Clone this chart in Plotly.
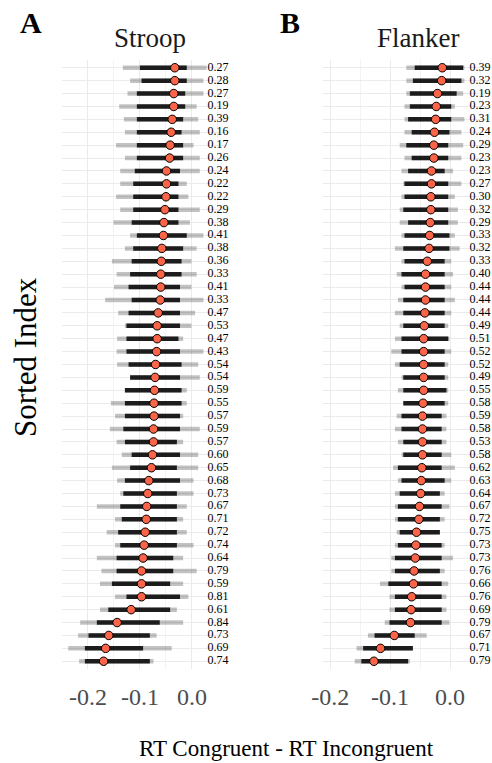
import plotly.graph_objects as go

# Sorted participant index (1 = top row)
rows = list(range(1, 48))

# ---------------- Stroop ----------------
stroop_mean = [-0.033, -0.033, -0.035, -0.035, -0.038, -0.040, -0.042, -0.043, -0.049, -0.049,
               -0.050, -0.052, -0.054, -0.055, -0.058, -0.059, -0.060, -0.060, -0.061, -0.065,
               -0.067, -0.067, -0.068, -0.070, -0.071, -0.072, -0.073, -0.073, -0.074, -0.074,
               -0.076, -0.078, -0.083, -0.085, -0.087, -0.088, -0.090, -0.092, -0.094, -0.097,
               -0.097, -0.097, -0.117, -0.144, -0.160, -0.166, -0.170]
# dense part of the sample cloud
stroop_core_lo = [-0.100, -0.097, -0.106, -0.106, -0.106, -0.106, -0.106, -0.106, -0.110, -0.113,
                  -0.113, -0.113, -0.116, -0.106, -0.113, -0.116, -0.119, -0.122, -0.116, -0.122,
                  -0.126, -0.126, -0.126, -0.122, -0.119, -0.129, -0.129, -0.129, -0.132, -0.129,
                  -0.116, -0.119, -0.129, -0.132, -0.138, -0.135, -0.142, -0.138, -0.145, -0.145,
                  -0.154, -0.126, -0.161, -0.183, -0.199, -0.206, -0.206]
stroop_core_hi = [-0.010, -0.010, -0.013, -0.013, -0.017, -0.020, -0.017, -0.017, -0.023, -0.026,
                  -0.026, -0.026, -0.026, -0.010, -0.017, -0.020, -0.020, -0.023, -0.023, -0.023,
                  -0.023, -0.026, -0.023, -0.020, -0.023, -0.020, -0.020, -0.023, -0.023, -0.029,
                  -0.023, -0.029, -0.023, -0.029, -0.029, -0.029, -0.029, -0.029, -0.036, -0.036,
                  -0.042, -0.023, -0.042, -0.062, -0.081, -0.094, -0.081]
# full extent of the sample cloud
stroop_tail_lo = [-0.133, -0.119, -0.124, -0.140, -0.131, -0.129, -0.146, -0.129, -0.138, -0.138,
                  -0.146, -0.138, -0.151, -0.119, -0.129, -0.154, -0.145, -0.150, -0.167, -0.142,
                  -0.129, -0.144, -0.145, -0.144, -0.119, -0.129, -0.156, -0.148, -0.158, -0.145,
                  -0.135, -0.154, -0.144, -0.138, -0.183, -0.148, -0.164, -0.148, -0.183, -0.174,
                  -0.177, -0.148, -0.177, -0.215, -0.219, -0.238, -0.217]
stroop_tail_hi = [0.028, 0.022, 0.022, 0.009, 0.012, 0.015, 0.003, 0.015, 0.015, -0.010,
                  -0.007, 0.015, -0.004, 0.022, 0.009, -0.001, 0.009, -0.001, 0.022, 0.006,
                  -0.001, -0.017, 0.022, 0.012, 0.015, -0.010, -0.010, -0.017, 0.015, -0.017,
                  0.012, 0.012, 0.003, 0.003, -0.010, -0.017, -0.010, 0.003, -0.017, 0.009,
                  -0.017, -0.007, -0.029, -0.017, -0.068, -0.039, -0.074]
stroop_labels = [0.27, 0.28, 0.27, 0.19, 0.39, 0.16, 0.17, 0.26, 0.24, 0.22,
                 0.22, 0.29, 0.38, 0.41, 0.38, 0.36, 0.33, 0.41, 0.33, 0.47,
                 0.53, 0.47, 0.43, 0.54, 0.54, 0.59, 0.55, 0.57, 0.59, 0.57,
                 0.60, 0.65, 0.68, 0.73, 0.67, 0.71, 0.72, 0.74, 0.64, 0.79,
                 0.59, 0.81, 0.61, 0.84, 0.73, 0.69, 0.74]

# ---------------- Flanker ----------------
flanker_mean = [-0.013, -0.014, -0.021, -0.023, -0.024, -0.026, -0.027, -0.027, -0.031, -0.031,
                -0.032, -0.032, -0.033, -0.034, -0.035, -0.038, -0.041, -0.041, -0.041, -0.042,
                -0.043, -0.044, -0.044, -0.044, -0.044, -0.044, -0.045, -0.046, -0.046, -0.046,
                -0.046, -0.047, -0.048, -0.049, -0.051, -0.052, -0.056, -0.057, -0.058, -0.060,
                -0.061, -0.064, -0.065, -0.066, -0.093, -0.116, -0.127]
flanker_core_lo = [-0.059, -0.062, -0.067, -0.067, -0.070, -0.064, -0.073, -0.064, -0.070, -0.076,
                   -0.076, -0.078, -0.070, -0.076, -0.078, -0.076, -0.081, -0.076, -0.078, -0.078,
                   -0.078, -0.081, -0.081, -0.084, -0.078, -0.078, -0.078, -0.081, -0.081, -0.078,
                   -0.078, -0.087, -0.081, -0.084, -0.087, -0.087, -0.084, -0.087, -0.092, -0.092,
                   -0.103, -0.092, -0.092, -0.101, -0.126, -0.145, -0.148]
flanker_core_hi = [0.022, 0.019, 0.011, 0.002, 0.002, -0.001, -0.003, -0.003, -0.009, -0.003,
                   -0.003, -0.003, -0.003, -0.001, -0.001, -0.009, -0.009, -0.009, -0.009, -0.009,
                   -0.009, -0.003, -0.009, -0.009, -0.009, -0.006, -0.009, -0.014, -0.014, -0.014,
                   -0.014, -0.014, -0.009, -0.017, -0.014, -0.017, -0.017, -0.014, -0.014, -0.017,
                   -0.014, -0.014, -0.014, -0.014, -0.059, -0.062, -0.070]
flanker_tail_lo = [-0.073, -0.073, -0.073, -0.076, -0.076, -0.076, -0.084, -0.076, -0.081, -0.078,
                   -0.081, -0.084, -0.084, -0.081, -0.092, -0.081, -0.089, -0.081, -0.087, -0.092,
                   -0.084, -0.092, -0.098, -0.092, -0.081, -0.087, -0.078, -0.089, -0.092, -0.087,
                   -0.081, -0.095, -0.087, -0.092, -0.092, -0.092, -0.089, -0.092, -0.098, -0.098,
                   -0.117, -0.101, -0.101, -0.109, -0.137, -0.156, -0.159]
flanker_tail_hi = [0.024, 0.024, 0.022, 0.008, 0.024, 0.019, 0.022, 0.019, 0.005, 0.019,
                   0.008, 0.013, 0.013, 0.008, 0.016, 0.002, 0.005, 0.002, 0.008, 0.002,
                   -0.003, -0.001, 0.002, -0.003, -0.003, -0.003, -0.003, -0.006, -0.006, -0.006,
                   0.002, 0.008, 0.002, -0.009, -0.001, -0.009, -0.017, -0.009, 0.005, -0.009,
                   -0.003, -0.006, -0.006, -0.001, -0.039, -0.062, -0.067]
flanker_labels = [0.39, 0.32, 0.19, 0.23, 0.31, 0.24, 0.29, 0.23, 0.23, 0.27,
                  0.30, 0.32, 0.29, 0.33, 0.32, 0.33, 0.40, 0.44, 0.44, 0.44,
                  0.49, 0.51, 0.52, 0.52, 0.49, 0.55, 0.58, 0.59, 0.58, 0.53,
                  0.58, 0.62, 0.63, 0.64, 0.67, 0.72, 0.75, 0.73, 0.73, 0.76,
                  0.66, 0.76, 0.69, 0.79, 0.67, 0.71, 0.79]

tick_vals = [-0.2, -0.1, 0.0]
tick_text = ["-0.2", "-0.1", "0.0"]
minor_vals = [-0.25, -0.15, -0.05, 0.05]
label_x = 0.05

FONT = "Liberation Serif"
W, H = 492, 763


def segments(lo, hi, ys):
    xs, yy = [], []
    for a, b, r in zip(lo, hi, ys):
        xs += [a, b, None]
        yy += [r, r, None]
    return xs, yy


fig = go.Figure()

panels = [
    ("x", "y", stroop_mean, stroop_core_lo, stroop_core_hi, stroop_tail_lo, stroop_tail_hi, stroop_labels),
    ("x2", "y2", flanker_mean, flanker_core_lo, flanker_core_hi, flanker_tail_lo, flanker_tail_hi, flanker_labels),
]

for xa, ya, mean, clo, chi, tlo, thi, labs in panels:
    tx, ty = segments(tlo, thi, rows)
    fig.add_trace(go.Scatter(x=tx, y=ty, mode="lines", xaxis=xa, yaxis=ya,
                             line=dict(color="rgba(0,0,0,0.24)", width=4.5),
                             hoverinfo="skip", showlegend=False))
    cx, cy = segments(clo, chi, rows)
    fig.add_trace(go.Scatter(x=cx, y=cy, mode="lines", xaxis=xa, yaxis=ya,
                             line=dict(color="rgba(0,0,0,0.85)", width=4.5),
                             hoverinfo="skip", showlegend=False))
    fig.add_trace(go.Scatter(x=mean, y=rows, mode="markers", xaxis=xa, yaxis=ya,
                             marker=dict(size=8.5, color="#FA6448",
                                         line=dict(color="black", width=1)),
                             showlegend=False))
    fig.add_trace(go.Scatter(x=[label_x] * len(rows), y=rows, mode="text", xaxis=xa, yaxis=ya,
                             text=[f"{v:.2f}" for v in labs],
                             textfont=dict(family=FONT, size=12, color="black"),
                             textposition="middle center", cliponaxis=False,
                             hoverinfo="skip", showlegend=False))

y_dom = [(H - 669) / H, (H - 60) / H]

axis_x = dict(tickvals=tick_vals, ticktext=tick_text, showgrid=True, gridcolor="#ebebeb",
              gridwidth=1.1, zeroline=False, showline=False, ticks="", automargin=False,
              ticklabelstandoff=11,
              tickfont=dict(family=FONT, size=24, color="#4d4d4d"),
              minor=dict(tickvals=minor_vals, showgrid=True, gridcolor="#f3f3f3", gridwidth=0.6))
axis_y = dict(range=[47.6, 0.4], tickvals=rows, showticklabels=False, showgrid=True,
              gridcolor="#ebebeb", gridwidth=1.1, zeroline=False, showline=False, ticks="",
              automargin=False, domain=y_dom)

fig.update_layout(
    width=W, height=H,
    margin=dict(l=0, r=0, t=0, b=0, pad=0),
    paper_bgcolor="white", plot_bgcolor="white",
    xaxis=dict(axis_x, domain=[62 / W, 225.4 / W], range=[-0.25, 0.0643], anchor="y"),
    yaxis=dict(axis_y, anchor="x"),
    xaxis2=dict(axis_x, domain=[323 / W, 487.5 / W], range=[-0.212, 0.0625], anchor="y2"),
    yaxis2=dict(axis_y, anchor="x2"),
)


def note(text, x, y, size, bold=False, angle=0, color="black"):
    fig.add_annotation(text=f"<b>{text}</b>" if bold else text,
                       x=x / W, y=1 - y / H, xref="paper", yref="paper",
                       xanchor="center", yanchor="middle", showarrow=False, textangle=angle,
                       font=dict(family=FONT, size=size, color=color))


note("A", 31, 23, 30, bold=True)
note("B", 290, 23, 30, bold=True)
note("Stroop", 150, 38, 27, color="#1a1a1a")
note("Flanker", 418, 38, 27, color="#1a1a1a")
note("Sorted Index", 25, 357, 31, angle=-90)
note("RT Congruent - RT Incongruent", 286, 748, 23)

fig.write_html("out.html")
